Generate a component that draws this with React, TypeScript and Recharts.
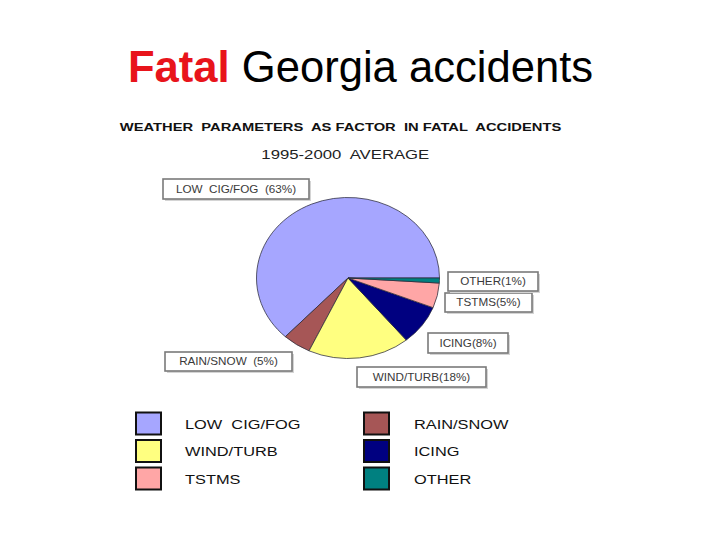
import React from 'react';
import { PieChart, Pie, Cell } from 'recharts';

// ---- data ----
const categories = ['LOW CIG/FOG', 'RAIN/SNOW', 'WIND/TURB', 'ICING', 'TSTMS', 'OTHER'];
const values = [63, 5, 18, 8, 5, 1];
const colors = ['#A6A6FF', '#A65656', '#FFFF80', '#000080', '#FFA6A6', '#008080'];
const sliceLabels = ['LOW  CIG/FOG  (63%)', 'RAIN/SNOW  (5%)', 'WIND/TURB(18%)', 'ICING(8%)', 'TSTMS(5%)', 'OTHER(1%)'];
const legendNames = ['LOW  CIG/FOG', 'RAIN/SNOW', 'WIND/TURB', 'ICING', 'TSTMS', 'OTHER'];
const legendOrder = [0, 2, 4, 1, 3, 5];

const pieData = categories.map((name, i) => ({ name, value: values[i] }));

// ---- layout (label boxes, legend) ----
const boxes = [
  { x: 163, y: 179, w: 146, h: 20 },
  { x: 165, y: 352, w: 127, h: 19 },
  { x: 357, y: 367, w: 129, h: 20 },
  { x: 428, y: 333, w: 80, h: 20 },
  { x: 445, y: 293, w: 87, h: 19 },
  { x: 448, y: 272, w: 90, h: 19 },
];

const PIE_SIZE = 200;
const PIE_R = 91.5;
const PIE_CX = 347.7;
const PIE_CY = 278.3;
const PIE_SY = 0.88;

function StretchText({ x, y, sx, size, anchor = 'start', weight = 'normal', fill = '#000', children }: any) {
  return (
    <g transform={`translate(${x},${y}) scale(${sx},1)`}>
      <text
        x={0}
        y={0}
        textAnchor={anchor}
        fontFamily="'Liberation Sans', Arial, sans-serif"
        fontSize={size}
        fontWeight={weight}
        fill={fill}
        style={{ whiteSpace: 'pre' }}
      >
        {children}
      </text>
    </g>
  );
}

export default function App() {
  return (
    <div style={{ position: 'absolute', left: 0, top: 0, width: 720, height: 540, background: '#fff', overflow: 'hidden' }}>
      <div
        style={{
          position: 'absolute',
          left: PIE_CX - PIE_SIZE / 2,
          top: PIE_CY - PIE_SIZE / 2,
          width: PIE_SIZE,
          height: PIE_SIZE,
          transform: `scaleY(${PIE_SY})`,
          transformOrigin: `${PIE_SIZE / 2}px ${PIE_SIZE / 2}px`,
        }}
      >
        <PieChart width={PIE_SIZE} height={PIE_SIZE} margin={{ top: 0, right: 0, bottom: 0, left: 0 }}>
          <Pie
            data={pieData}
            dataKey="value"
            nameKey="name"
            cx={PIE_SIZE / 2}
            cy={PIE_SIZE / 2}
            outerRadius={PIE_R}
            startAngle={0}
            endAngle={360}
            stroke="#2a2a3a"
            strokeWidth={0.8}
            isAnimationActive={false}
            label={false}
            labelLine={false}
          >
            {pieData.map((d, i) => (
              <Cell key={d.name} fill={colors[i]} />
            ))}
          </Pie>
        </PieChart>
      </div>

      <svg width={720} height={540} style={{ position: 'absolute', left: 0, top: 0, pointerEvents: 'none' }}>
        {/* main title */}
        <text
          x={360.5}
          y={82}
          textAnchor="middle"
          fontFamily="'Liberation Sans', Arial, sans-serif"
          fontSize={43.6}
          style={{ whiteSpace: 'pre' }}
        >
          <tspan fill="#E8141B" fontWeight="bold">Fatal</tspan>
          <tspan fill="#000"> Georgia accidents</tspan>
        </text>

        <StretchText x={340.5} y={130.7} sx={1.27} size={11.6} anchor="middle" weight="bold" fill="#111">
          {'WEATHER  PARAMETERS  AS FACTOR  IN FATAL  ACCIDENTS'}
        </StretchText>
        <StretchText x={345.3} y={159} sx={1.24} size={13.5} anchor="middle" fill="#222">
          {'1995-2000  AVERAGE'}
        </StretchText>

        {/* slice label boxes */}
        {sliceLabels.map((t, i) => {
          const b = boxes[i];
          return (
            <g key={t}>
              <rect x={b.x + 2} y={b.y + 2} width={b.w} height={b.h} fill="#d4d4d4" />
              <rect x={b.x} y={b.y} width={b.w} height={b.h} fill="#fff" stroke="#7a7a7a" strokeWidth={1.6} />
              <StretchText x={b.x + b.w / 2} y={b.y + b.h / 2 + 3.6} sx={1.17} size={10} anchor="middle" fill="#3a3a3a">
                {t}
              </StretchText>
            </g>
          );
        })}

        {/* legend */}
        {legendOrder.map((ci, k) => {
          const col = Math.floor(k / 3);
          const row = k % 3;
          const sxp = col === 0 ? 136 : 364;
          const tx = col === 0 ? 185 : 414;
          const sy = 412.5 + row * 27.5;
          return (
            <g key={categories[ci]}>
              <rect x={sxp} y={sy} width={25} height={22} fill={colors[ci]} stroke="#111" strokeWidth={2} />
              <StretchText x={tx} y={sy + 16} sx={1.26} size={13} fill="#111">
                {legendNames[ci]}
              </StretchText>
            </g>
          );
        })}
      </svg>
    </div>
  );
}
